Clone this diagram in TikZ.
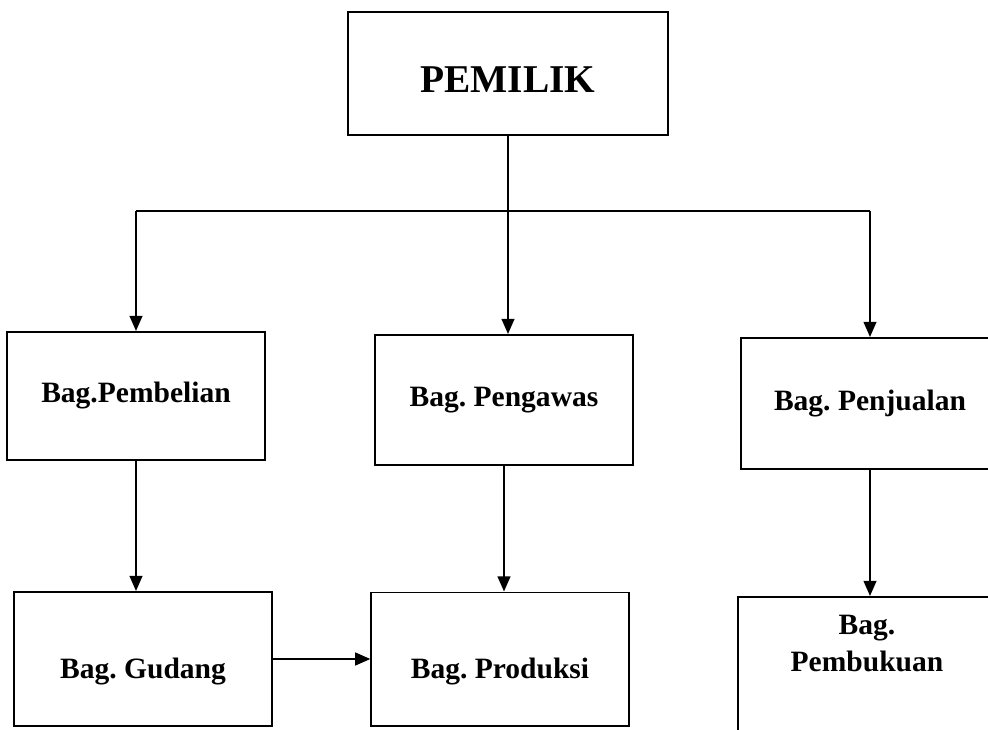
\documentclass[tikz,border=0pt]{standalone}
\usepackage{fontspec}
\setmainfont{Liberation Serif}
\usepackage{tikz}
\usetikzlibrary{arrows.meta, calc}
\frenchspacing

\begin{document}
\begin{tikzpicture}[x=0.025cm, y=-0.025cm,
        unit/.style={draw, line width=1.4pt, align=center, inner sep=0pt,
            minimum width=6.43cm, minimum height=3.25cm,
            font=\bfseries\fontsize{21}{26}\selectfont},
        link/.style={line width=1.4pt, -{Triangle[length=0.38cm, width=0.32cm]}}]
        \useasboundingbox (0,0) rectangle (988,730);
        \clip (0,0) rectangle (988,730);
        \node[unit, minimum width=7.975cm, minimum height=3.075cm,
            font=\bfseries\fontsize{28}{32}\selectfont] (pemilik) at (508,73.5) {\raisebox{-0.48cm}[0pt][0pt]{PEMILIK}};
        \node[unit, minimum height=3.2cm] (pembelian) at (136,396) {Bag.Pembelian};
        \node[unit] (pengawas) at (504,400) {Bag. Pengawas};
        \node[unit, minimum height=3.275cm] (penjualan) at (870,403.5) {Bag. Penjualan};
        \node[unit, minimum height=3.35cm] (gudang) at (143,659) {\raisebox{-0.48cm}[0pt][0pt]{Bag. Gudang}};
        \node[unit, minimum height=3.325cm] (produksi) at (500,659) {\raisebox{-0.48cm}[0pt][0pt]{Bag. Produksi}};
        \node[unit, minimum height=3.5cm] (pembukuan) at (867,667) {Bag.\\Pembukuan\\\strut};
        % garis bercabang dari pemilik
        \coordinate (bus) at (508,211);
        \draw[line width=1.4pt] (pembelian.north |- bus) -- (penjualan.north |- bus);
        \draw[link] (pemilik.south) -- (pemilik.south |- pengawas.north);
        \draw[link] (pembelian.north |- bus) -- (pembelian.north);
        \draw[link] (penjualan.north |- bus) -- (penjualan.north);
        \draw[link] (pembelian.south) -- (pembelian.south |- gudang.north);
        \draw[link] (pengawas.south) -- (pengawas.south |- produksi.north);
        \draw[link] (penjualan.south) -- (penjualan.south |- pembukuan.north);
        \draw[link] (gudang.east) -- (gudang.east -| produksi.west);
    \end{tikzpicture}
\end{document}
